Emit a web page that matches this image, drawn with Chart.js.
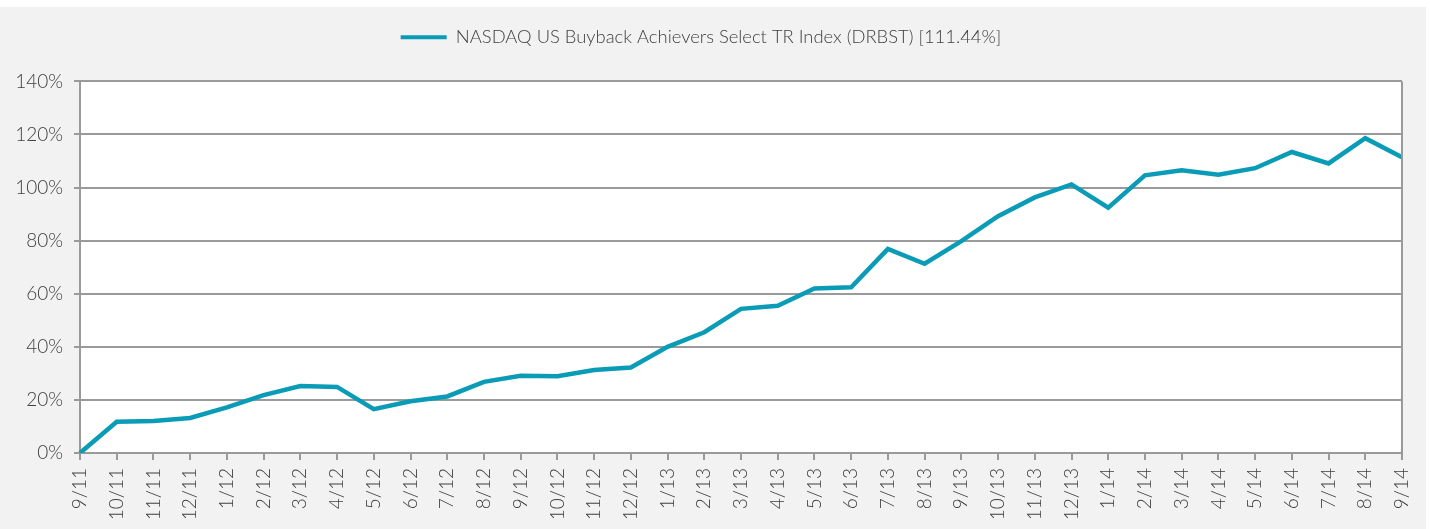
<!DOCTYPE html>
<html>
<head>
<meta charset="utf-8">
<script src="https://cdn.jsdelivr.net/npm/chart.js@4"></script>
<style>
  html, body { margin: 0; padding: 0; background: #ffffff; }
  #wrap { position: absolute; left: 0; top: 7px; width: 1426px; height: 522px; background: #f2f2f2; }
</style>
</head>
<body>
<div id="wrap"><canvas id="buyback-chart"></canvas></div>
<script>
  // Monatsenden 9/11 - 9/14
  const months = ["9/11", "10/11", "11/11", "12/11", "1/12", "2/12", "3/12", "4/12", "5/12", "6/12",
    "7/12", "8/12", "9/12", "10/12", "11/12", "12/12", "1/13", "2/13", "3/13", "4/13", "5/13", "6/13",
    "7/13", "8/13", "9/13", "10/13", "11/13", "12/13", "1/14", "2/14", "3/14", "4/14", "5/14", "6/14",
    "7/14", "8/14", "9/14"];

  // kumulierte Rendite in %
  const drbst = [0, 11.8, 12.1, 13.2, 17.2, 21.8, 25.2, 24.9, 16.5, 19.5,
    21.3, 26.8, 29.1, 28.9, 31.3, 32.2, 40.0, 45.5, 54.3, 55.5, 62.0, 62.4,
    76.9, 71.3, 79.8, 89.2, 96.3, 101.2, 92.4, 104.6, 106.5, 104.8, 107.3, 113.4,
    109.1, 118.6, 111.44];

  const yTicks = [0, 20, 40, 60, 80, 100, 120, 140];

  const lineColor = "#0a9bb7";
  const gridColor = "#9a9a9a";
  const textColor = "#404040";
  const fontFamily = "Lato, 'Open Sans', sans-serif";

  // weisse Plotflaeche + rechter Rand
  const plotArea = {
    id: "plotArea",
    beforeDraw(chart) {
      const a = chart.chartArea;
      const c = chart.ctx;
      c.save();
      c.fillStyle = "#ffffff";
      c.fillRect(a.left, a.top, a.right - a.left, a.bottom - a.top);
      c.restore();
    },
    afterDatasetsDraw(chart) {
      const a = chart.chartArea;
      const c = chart.ctx;
      c.save();
      c.strokeStyle = gridColor;
      c.lineWidth = 2;
      c.beginPath();
      c.moveTo(a.right, a.top);
      c.lineTo(a.right, a.bottom);
      c.stroke();
      c.restore();
    }
  };

  const data = {
    labels: months,
    datasets: [{
      label: "NASDAQ US Buyback Achievers Select TR Index (DRBST) [111.44%]",
      data: drbst,
      borderColor: lineColor,
      backgroundColor: lineColor,
      borderWidth: 4.5,
      pointRadius: 0,
      tension: 0,
      borderJoinStyle: "miter"
    }]
  };

  const options = {
    responsive: false,
    animation: false,
    layout: {
      padding: { top: 11, right: 24, bottom: 0, left: 0 }
    },
    scales: {
      x: {
        offset: false,
        afterFit: function(axis) {
          axis.height = 76;
          axis.paddingLeft = 0;
          axis.paddingRight = 0;
        },
        grid: {
          display: true,
          drawOnChartArea: false,
          drawTicks: true,
          tickLength: 7,
          color: gridColor,
          lineWidth: 2
        },
        border: { color: gridColor, width: 2 },
        ticks: {
          autoSkip: false,
          maxRotation: 90,
          minRotation: 90,
          padding: 8,
          color: textColor,
          font: { family: fontFamily, size: 19, weight: 300 }
        }
      },
      y: {
        min: 0,
        max: 140,
        afterFit: function(axis) { axis.width = 80; },
        afterBuildTicks: function(axis) {
          axis.ticks = yTicks.map(v => ({ value: v }));
        },
        grid: {
          color: gridColor,
          lineWidth: 2,
          tickLength: 6
        },
        border: { color: gridColor, width: 2 },
        ticks: {
          padding: 11,
          color: textColor,
          font: { family: fontFamily, size: 19, weight: 300 },
          callback: function(value) { return value + "%"; }
        }
      }
    },
    plugins: {
      legend: {
        display: true,
        weight: 3000,
        labels: {
          boxWidth: 46,
          boxHeight: 4,
          padding: 10,
          color: textColor,
          font: { family: fontFamily, size: 18.4, weight: 300 },
          generateLabels: function(chart) {
            const items = Chart.defaults.plugins.legend.labels.generateLabels(chart);
            items.forEach(i => { i.lineWidth = 0; i.fillStyle = lineColor; });
            return items;
          }
        }
      },
      // leerer Titel als Abstand zwischen Legende und Plot
      title: {
        display: true,
        text: "",
        font: { size: 10, lineHeight: 1.2 },
        padding: { top: 0, bottom: 13 }
      },
      tooltip: { enabled: false }
    }
  };

  const canvas = document.getElementById("buyback-chart");
  canvas.width = 1426;
  canvas.height = 522;
  const ctx = canvas.getContext("2d");
  const buybackChart = new Chart(ctx, {
    type: "line",
    data: data,
    options: options,
    plugins: [plotArea]
  });
</script>
</body>
</html>
